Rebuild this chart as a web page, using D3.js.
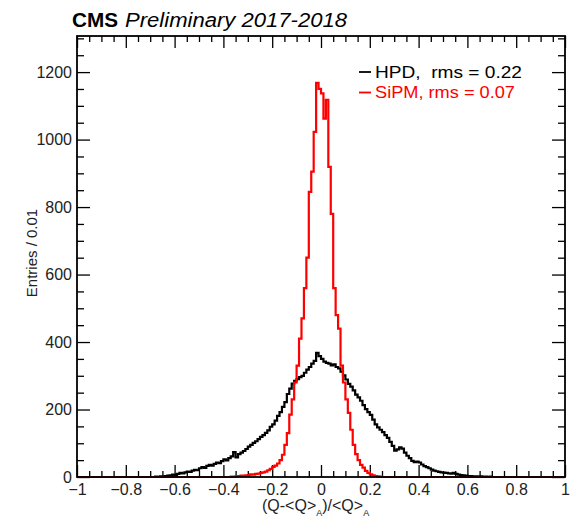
<!DOCTYPE html>
<html>
<head>
<meta charset="utf-8">
<script src="https://cdn.jsdelivr.net/npm/d3@7"></script>
<style>
  body { margin: 0; background: #fff; }
  svg { font-family: "Liberation Sans", Arial, sans-serif; }
  .tick text { font-size: 16px; fill: #222; }
  .tick line { stroke: #000; stroke-width: 1.3; }
</style>
</head>
<body>
<svg id="chart" width="573" height="521"></svg>
<script>
// Data: counts per 0.01 bin, listed from the first non-empty bin edge
const binWidth = 0.01
const hpdFirstEdge = -0.70
const hpdCounts = [
  0, 0, 1, 0, 2, 1, 3, 4, 5, 7, 6, 9, 12, 11, 14, 16, 15, 19, 21, 20,
  26, 29, 27, 33, 36, 34, 39, 43, 41, 47, 52, 49, 56, 61, 74, 58, 68, 72, 77, 83,
  90, 95, 101, 106, 112, 119, 124, 131, 138, 149, 156, 167, 181, 192, 208, 222, 246, 262, 277, 285,
  290, 296, 300, 309, 318, 326, 336, 344, 368, 358, 350, 342, 338, 336, 331, 334, 326, 322, 312, 301,
  289, 276, 268, 257, 244, 236, 226, 213, 201, 192, 184, 170, 156, 147, 140, 133, 124, 116, 104, 92,
  78, 82, 88, 84, 72, 63, 56, 48, 44, 46, 43, 37, 32, 29, 26, 22, 19, 17, 15, 14,
  13, 12, 11, 10, 12, 9, 7, 6, 5, 4, 3, 3, 2, 2, 1, 2, 1, 1, 0, 1, 0
]
const sipmFirstEdge = -0.37
const sipmCounts = [
  1, 1, 2, 3, 4, 4, 5, 6, 8, 7, 9, 10, 12, 14, 16, 20, 24, 30, 34, 40,
  50, 66, 95, 130, 185, 230, 280, 330, 410, 470, 560, 650, 845, 905, 1023, 1168, 1150, 1137, 1062, 1118,
  919, 780, 560, 480, 440, 330, 280, 230, 190, 140, 95, 68, 50, 36, 28, 18, 12, 8, 5, 3, 2, 1
]
const legendLabels = ['HPD,  rms = 0.22', 'SiPM, rms = 0.07']
const legendColors = ['#000', '#ff0000']
const xMajor = [-1, -0.8, -0.6, -0.4, -0.2, 0, 0.2, 0.4, 0.6, 0.8, 1]
const yMajor = [0, 200, 400, 600, 800, 1000, 1200]

const svg = d3.select('#chart')
const x = d3.scaleLinear([-1, 1], [77, 565])
const y = d3.scaleLinear([0, 1307], [477, 36])
const nBins = Math.round(2 / binWidth)

// full-range bins, zero outside the listed part
function fullBins(first, counts) {
  const off = Math.round((first + 1) / binWidth)
  return d3.range(nBins).map(i => {
    const j = i - off
    return {x0: -1 + i * binWidth, x1: -1 + (i + 1) * binWidth, n: j >= 0 && j < counts.length ? counts[j] : 0}
  })
}
function stepPath(bins) {
  let p = `M${x(bins[0].x0)},${y(0)}`
  bins.forEach(b => { p += `V${y(b.n)}H${x(b.x1)}` })
  return p + `V${y(0)}`
}

const fmt = d => d === 0 ? '0' : d3.format('')(+d.toFixed(1))
const xMinor = d3.range(-1, 1.001, 0.05).map(v => +v.toFixed(2)).filter(v => !xMajor.some(m => Math.abs(m - v) < 1e-6))
const yMinor = d3.range(0, 1301, 50).filter(v => v % 200)

const axisG = (axis, tr) => svg.append('g').attr('transform', tr).call(axis).call(g => g.select('.domain').remove())

// bottom
axisG(d3.axisBottom(x).tickValues(xMajor).tickSize(-12).tickPadding(7).tickFormat(fmt), `translate(0,${y(0)})`)
axisG(d3.axisBottom(x).tickValues(xMinor).tickSize(-6).tickFormat(''), `translate(0,${y(0)})`)
// top
axisG(d3.axisTop(x).tickValues(xMajor).tickSize(-12).tickFormat(''), `translate(0,${y.range()[1]})`)
axisG(d3.axisTop(x).tickValues(xMinor).tickSize(-6).tickFormat(''), `translate(0,${y.range()[1]})`)
// left
axisG(d3.axisLeft(y).tickValues(yMajor).tickSize(-13).tickPadding(5).tickFormat(fmt), `translate(${x(-1)},0)`)
axisG(d3.axisLeft(y).tickValues(yMinor).tickSize(-7).tickFormat(''), `translate(${x(-1)},0)`)
// right
axisG(d3.axisRight(y).tickValues(yMajor).tickSize(-13).tickFormat(''), `translate(${x(1)},0)`)
axisG(d3.axisRight(y).tickValues(yMinor).tickSize(-7).tickFormat(''), `translate(${x(1)},0)`)

svg.selectAll('.tick text').attr('font-family', '"Liberation Sans", Arial, sans-serif')

/* Histograms */
svg.append('path').attr('d', stepPath(fullBins(hpdFirstEdge, hpdCounts)))
  .attr('fill', 'none').attr('stroke', legendColors[0]).attr('stroke-width', 2.2)
svg.append('path').attr('d', stepPath(fullBins(sipmFirstEdge, sipmCounts)))
  .attr('fill', 'none').attr('stroke', legendColors[1]).attr('stroke-width', 2.2)

/* Frame */
svg.append('rect').attr('x', x(-1)).attr('y', y.range()[1])
  .attr('width', x(1) - x(-1)).attr('height', y(0) - y.range()[1])
  .attr('fill', 'none').attr('stroke', '#000').attr('stroke-width', 1.8)

/* Legend */
legendLabels.forEach((t, i) => {
  const ly = 72 + i * 20.5
  svg.append('line').attr('x1', 359).attr('x2', 371).attr('y1', ly).attr('y2', ly)
    .attr('stroke', legendColors[i]).attr('stroke-width', 1.8)
  svg.append('text').attr('x', 375).attr('y', ly + 5.8).attr('font-size', 17)
    .attr('textLength', i ? 140 : 147).attr('lengthAdjust', 'spacingAndGlyphs')
    .attr('fill', legendColors[i]).attr('xml:space', 'preserve').style('white-space', 'pre').text(t)
})

/* Title */
const title = svg.append('text').attr('x', 72).attr('y', 27).attr('font-size', 20)
title.append('tspan').attr('font-weight', 'bold').attr('textLength', 46).attr('lengthAdjust', 'spacingAndGlyphs').text('CMS')
title.append('tspan').attr('x', 125).attr('font-style', 'italic')
  .attr('textLength', 222).attr('lengthAdjust', 'spacingAndGlyphs').text('Preliminary 2017-2018')

/* Axis titles */
svg.append('text').attr('transform', 'translate(37,253) rotate(-90)').attr('text-anchor', 'middle')
  .attr('font-size', 15).attr('fill', '#222').text('Entries / 0.01')
const xt = svg.append('text').attr('x', 262).attr('y', 511).attr('font-size', 16).attr('fill', '#222')
xt.append('tspan').text('(Q-<Q>')
xt.append('tspan').attr('font-size', 9).attr('dy', 5).text('A')
xt.append('tspan').attr('dy', -5).text(')/<Q>')
xt.append('tspan').attr('font-size', 9).attr('dy', 5).text('A')
</script>
</body>
</html>
